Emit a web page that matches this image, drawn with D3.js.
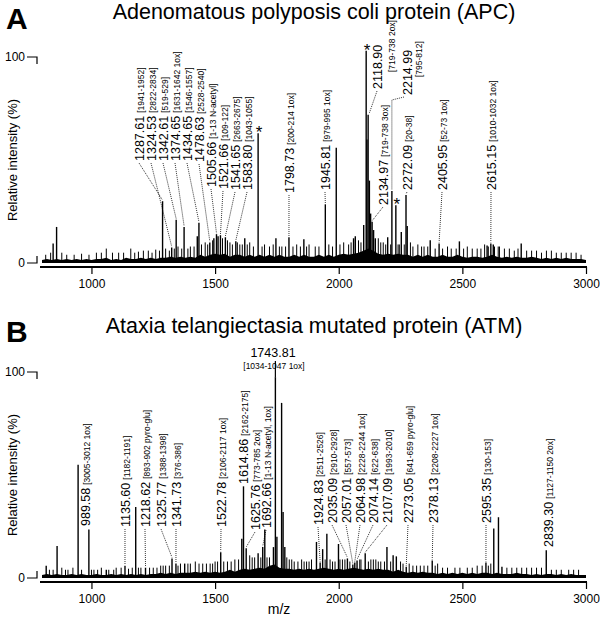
<!DOCTYPE html>
<html>
<head>
<meta charset="utf-8">
<script src="https://cdn.jsdelivr.net/npm/d3@7"></script>
<style>
  body { margin: 0; background: #fff; }
  svg { display: block; font-family: "Liberation Sans", Arial, sans-serif; }
</style>
</head>
<body>
<div id="chart"></div>
<script>
const width = 600;
const height = 618;

// x axis ticks (m/z)
const mzTicks = [1000, 1500, 2000, 2500, 3000];

// ---- Panel A: APC ----
// main peaks [m/z, relative intensity %]
const peaksA = [
  [845, 9.5], [859, 17.5], [1287.61, 30], [1324.53, 7.5], [1342.61, 21], [1374.65, 17.5],
  [1428, 13], [1434.65, 19.5], [1478.63, 10], [1495, 12], [1505.66, 14], [1512, 13],
  [1521.66, 13.5], [1541.65, 12.5], [1583.80, 10.5], [1620, 12], [1674, 63], [1746, 12],
  [1798.73, 12.5], [1859, 11.5], [1945.81, 28.5], [1990, 56], [2060, 12], [2067, 13],
  [2101, 18.5], [2111, 103], [2114, 60], [2118.90, 72], [2124, 40], [2129, 24],
  [2134.97, 20], [2141, 16], [2148, 12], [2198, 12.5], [2214.99, 35], [2231, 28],
  [2253, 15], [2272.09, 33], [2277, 18], [2370, 11], [2405.95, 9.5], [2488, 10.5],
  [2600, 8.5], [2615.15, 9.5], [2625, 9], [2738, 9.5]
];
// small spikes in the noise
const minorA = [
  [815, 4], [835, 5], [880, 5], [900, 4], [930, 4], [960, 4.5], [990, 4], [1020, 5],
  [1040, 5], [1060, 7], [1085, 5], [1110, 5], [1130, 5], [1159, 7], [1175, 5], [1190, 5.5],
  [1210, 6], [1230, 6], [1245, 5], [1260, 6.5], [1275, 6], [1300, 7], [1315, 6], [1335, 7],
  [1350, 8], [1365, 7], [1390, 7], [1400, 8], [1415, 8], [1445, 9], [1460, 10], [1470, 9],
  [1490, 11], [1530, 12], [1550, 11], [1560, 10], [1570, 9], [1590, 10], [1600, 9],
  [1610, 9], [1630, 9], [1640, 10], [1655, 8], [1690, 8], [1700, 9], [1720, 8], [1735, 9],
  [1760, 8], [1770, 8], [1785, 8], [1815, 8], [1830, 9], [1845, 8], [1870, 8], [1880, 9],
  [1905, 8], [1920, 8], [1960, 9], [1975, 8], [2005, 9], [2020, 10], [2040, 9], [2050, 10],
  [2080, 11], [2090, 10], [2160, 12], [2170, 10], [2180, 10], [2190, 9], [2210, 9],
  [2240, 9], [2245, 9], [2265, 9], [2290, 10], [2300, 8], [2320, 9], [2335, 8], [2345, 8],
  [2360, 8], [2390, 7], [2420, 7], [2440, 8], [2455, 7], [2475, 7], [2505, 7], [2520, 8],
  [2540, 7], [2560, 7], [2575, 7], [2590, 9], [2605, 8], [2630, 8], [2645, 8], [2650, 8],
  [2670, 7], [2690, 7], [2710, 6], [2725, 7], [2760, 6], [2780, 6], [2800, 6], [2820, 5],
  [2840, 6], [2860, 6], [2880, 5], [2900, 5], [2920, 5], [2940, 5], [2960, 5], [2980, 4]
];
// dense noise band top, every 20 m/z from 800 to 3000
const noiseA = [
  1.5, 2, 1.5, 2, 1.5,  2, 1.5, 2, 1.5, 2,  1.5, 2, 2, 2.5, 1.5,  2, 1.5, 2.5, 2, 2,
  2.5, 2, 2.5, 2, 2.5,  2.5, 3, 2.5, 3, 2.5,  3, 2.5, 4, 3, 4,  4.5, 4, 4.5, 3, 4,
  4, 3, 4, 3, 4,  3, 4, 3, 4, 3,  3, 4, 3, 4, 3,  3, 4, 3, 4, 3,
  4, 4.5, 4, 4.5, 5,  6, 7, 6, 4.5, 4,  4.5, 4, 4.5, 4, 4,  3, 4, 3, 4, 3,
  3, 4, 3, 3, 4,  3, 2.5, 3, 3, 2.5,  3, 4, 3, 2.5, 3,  2.5, 3, 2.5, 2.5, 3,
  2.5, 2, 2.5, 2, 2.5,  2, 2.5, 2, 2, 2,  1.5
];
const labelsA = [
  [1287.61, "1287.61", "[1941-1952]"],
  [1324.53, "1324.53", "[2822-2834]"],
  [1342.61, "1342.61", "[519-529]"],
  [1374.65, "1374.65", "[1631-1642 1ox]"],
  [1434.65, "1434.65", "[1546-1557]"],
  [1478.63, "1478.63", "[2528-2540]"],
  [1505.66, "1505.66", "[1-13 N-acetyl]"],
  [1521.66, "1521.66", "[109-122]"],
  [1541.65, "1541.65", "[2663-2675]"],
  [1583.80, "1583.80", "[1043-1055]"],
  [1798.73, "1798.73", "[200-214 1ox]"],
  [1945.81, "1945.81", "[979-995 1ox]"],
  [2118.90, "2118.90", ""],
  [2134.97, "2134.97", "[719-738 3ox]"],
  [2214.99, "2214.99", ""],
  [2272.09, "2272.09", "[20-38]"],
  [2405.95, "2405.95", "[52-73 1ox]"],
  [2615.15, "2615.15", "[1010-1032 1ox]"]
];
const asterisksA = [1674, 2111, 2231];

// ---- Panel B: ATM ----
const peaksB = [
  [817, 6], [861, 15.5], [946, 55], [989.58, 23.5], [1060, 4], [1135.60, 6], [1179, 34.5],
  [1218.62, 5], [1325.77, 9.5], [1341.73, 7], [1377, 7], [1522.78, 12.5], [1608, 19],
  [1614.86, 44.5], [1625.76, 14.5], [1674, 12], [1692.66, 15], [1701, 23.5], [1736, 15],
  [1743.81, 97.5], [1750, 20], [1769, 85], [1775, 32], [1782, 15], [1910, 17.5],
  [1924.83, 7.5], [1935, 14], [1952, 21.5], [1999, 16.5], [2035.09, 9.5], [2057.01, 6.5],
  [2064.98, 7.5], [2074.14, 8.5], [2107.09, 12], [2195, 15], [2220, 11], [2233, 10.5],
  [2273.05, 5.5], [2378.13, 8.5], [2595.35, 7.5], [2627, 24], [2646, 29.5], [2660, 5.5],
  [2839.30, 13.5]
];
const minorB = [
  [830, 4], [845, 4], [880, 5], [895, 4], [905, 4], [925, 5], [960, 4], [1000, 4],
  [1010, 4], [1025, 4], [1040, 5], [1070, 4], [1090, 4], [1100, 5], [1120, 5], [1150, 4.5],
  [1165, 5], [1190, 5], [1200, 5], [1235, 5], [1250, 5], [1265, 5], [1280, 6], [1290, 6],
  [1300, 6], [1315, 6], [1350, 6], [1360, 7], [1390, 7], [1400, 7], [1420, 8], [1435, 7],
  [1450, 7], [1465, 7], [1480, 7], [1490, 7], [1500, 8], [1510, 8], [1535, 8], [1550, 8],
  [1565, 8], [1580, 9], [1595, 9], [1640, 11], [1650, 10], [1660, 10], [1685, 10],
  [1710, 10], [1720, 10], [1790, 10], [1800, 9], [1810, 9], [1820, 8], [1835, 8], [1850, 9],
  [1860, 8], [1870, 8], [1880, 8], [1890, 9], [1945, 9], [1965, 9], [1975, 8], [1985, 8],
  [2005, 9], [2015, 9], [2025, 9], [2045, 8], [2085, 9], [2090, 9], [2120, 8], [2130, 9],
  [2140, 9], [2150, 9], [2160, 8], [2170, 8], [2185, 8], [2210, 8], [2250, 8], [2260, 7],
  [2285, 7], [2300, 6], [2315, 6], [2330, 6], [2345, 6], [2360, 6], [2390, 6], [2400, 7],
  [2420, 5], [2440, 5], [2470, 5], [2490, 5], [2520, 5], [2540, 5], [2560, 6], [2580, 6],
  [2605, 6], [2615, 7], [2680, 5], [2700, 5], [2720, 5], [2740, 5], [2760, 5], [2780, 5],
  [2800, 5], [2820, 5], [2860, 4], [2880, 4], [2900, 4], [2930, 4], [2950, 4], [2970, 4]
];
const noiseB = [
  1.5, 2, 1.5, 2, 1.5, 1.5, 2, 1.5, 2, 1.5,
  1.5, 2, 1.5, 1.5, 2, 1.5, 2, 1.5, 2, 1.5,
  2, 1.5, 2, 2, 2.5, 2, 2.5, 2, 2.5, 2.5,
  2.5, 3, 2.5, 3, 2.5, 3, 2.5, 3, 4, 3,
  4, 4.5, 4, 4.5, 5, 4.5, 6, 6.5, 5, 4.5,
  4.5, 4, 4.5, 4, 4.5, 4, 4.5, 5, 4.5, 4,
  4.5, 4, 4.5, 5, 4.5, 4, 4.5, 4, 4.5, 4,
  4, 3, 4, 3, 2.5, 3, 2.5, 3, 2.5, 2.5,
  2, 2.5, 2, 2.5, 2, 2.5, 2, 2.5, 2, 2.5,
  2.5, 2, 2.5, 2, 2, 2, 2.5, 2, 2, 1.5,
  2, 1.5, 2, 2, 1.5, 2, 1.5, 2, 1.5, 1.5, 1.5
];
const labelsB = [
  [989.58, "989.58", "[3005-3012 1ox]"],
  [1135.60, "1135.60", "[1182-1191]"],
  [1218.62, "1218.62", "[893-902 pyro-glu]"],
  [1325.77, "1325.77", "[1388-1398]"],
  [1341.73, "1341.73", "[376-386]"],
  [1522.78, "1522.78", "[2106-2117 1ox]"],
  [1614.86, "1614.86", "[2162-2175]"],
  [1625.76, "1625.76", "[773-785 2ox]"],
  [1692.66, "1692.66", "[1-13 N-acetyl, 1ox]"],
  [1924.83, "1924.83", "[2511-2526]"],
  [2035.09, "2035.09", "[2910-2928]"],
  [2057.01, "2057.01", "[557-573]"],
  [2064.98, "2064.98", "[2228-2244 1ox]"],
  [2074.14, "2074.14", "[622-638]"],
  [2107.09, "2107.09", "[1993-2010]"],
  [2273.05, "2273.05", "[641-659 pyro-glu]"],
  [2378.13, "2378.13", "[2208-2227 1ox]"],
  [2595.35, "2595.35", "[130-153]"],
  [2839.30, "2839.30", "[1127-1150 2ox]"]
];

// label placement (pixel column centre, bottom of rotated text), same order as labels
const layoutA = [
  [139, 161], [151, 161], [163, 161], [175, 161], [187, 161], [199, 162],
  [211, 187], [223, 189], [235, 190], [247, 190],
  [289, 193], [325, 190], [377, 89], [383, 205], [407, 95], [407, 190], [442, 190], [491, 190]
];
const layoutB = [
  [85, 526], [125, 527], [145, 527], [161, 527], [176, 527], [221, 527],
  [243, 484], [255, 530], [266, 528],
  [318, 525], [332, 523], [346, 523], [360, 523], [373, 523], [387, 523],
  [408, 523], [433, 523], [486, 523], [548, 547]
];

const svg = d3.select("#chart")
  .append("svg")
  .attr("width", width)
  .attr("height", height);

const x = d3.scaleLinear().domain([800, 3000]).range([42, 586]);

function lookup(peaks, mz) {
  const p = peaks.find(d => Math.abs(d[0] - mz) < 0.01);
  return p ? p[1] : 5;
}

function rotLabel(g, cx, bottom, num, ref) {
  const t = g.append("text")
    .attr("transform", `translate(${cx + 4.5},${bottom}) rotate(-90)`)
    .attr("font-size", 12.5)
    .attr("fill", "#000");
  t.append("tspan").text(num);
  if (ref) t.append("tspan").attr("font-size", 8.5).attr("dx", 3).text(ref);
}

function leader(g, pts) {
  g.append("path")
    .attr("d", d3.line()(pts))
    .attr("fill", "none")
    .attr("stroke", "#000")
    .attr("stroke-width", 0.8)
    .attr("stroke-dasharray", "1,1");
}

function drawPanel(p) {
  const y = d3.scaleLinear().domain([0, 100]).range([p.base, p.top]);
  const g = svg.append("g");

  // dense noise band
  g.append("path")
    .datum(p.noise.map((v, i) => [800 + 20 * i, v]))
    .attr("d", d3.area().x(d => x(d[0])).y0(y(0)).y1(d => y(d[1])))
    .attr("fill", "#000");

  g.selectAll("line.minor")
    .data(p.minor)
    .join("line")
    .attr("class", "minor")
    .attr("x1", d => x(d[0])).attr("x2", d => x(d[0]))
    .attr("y1", y(0)).attr("y2", d => y(d[1]))
    .attr("stroke", "#000")
    .attr("stroke-width", 1);

  g.selectAll("line.peak")
    .data(p.peaks)
    .join("line")
    .attr("class", "peak")
    .attr("x1", d => x(d[0])).attr("x2", d => x(d[0]))
    .attr("y1", y(0)).attr("y2", d => y(d[1]))
    .attr("stroke", "#000")
    .attr("stroke-width", 1.4);

  // x axis
  const axis = d3.axisBottom(x).tickValues(mzTicks).tickSize(7).tickPadding(5).tickSizeOuter(0)
    .tickFormat(d3.format("d"));
  const ax = g.append("g")
    .attr("transform", `translate(0,${p.axisY})`)
    .call(axis);
  ax.attr("font-family", null).attr("font-size", null);
  ax.select(".domain").attr("d", "M40,0H587").attr("stroke-width", 2);
  ax.selectAll(".tick line").attr("stroke-width", 1.2);
  ax.selectAll(".tick text").attr("font-size", 12).attr("fill", "#000");

  // y axis brackets
  g.append("path").attr("d", `M27,${y(100)}H37V${y(100) + 7}`)
    .attr("fill", "none").attr("stroke", "#000").attr("stroke-width", 1.2);
  g.append("path").attr("d", `M27,${y(0)}H37V${y(0) - 7}`)
    .attr("fill", "none").attr("stroke", "#000").attr("stroke-width", 1.2);
  g.append("text").attr("x", 25).attr("y", y(100)).attr("dy", "0.35em")
    .attr("text-anchor", "end").attr("font-size", 12).text("100");
  g.append("text").attr("x", 25).attr("y", y(0)).attr("dy", "0.35em")
    .attr("text-anchor", "end").attr("font-size", 12).text("0");

  g.append("text")
    .attr("transform", `translate(17,${(y(0) + y(100)) / 2}) rotate(-90)`)
    .attr("text-anchor", "middle")
    .attr("font-size", 13)
    .text("Relative intensity (%)");

  // titles
  g.append("text").attr("x", 314).attr("y", p.titleY).attr("text-anchor", "middle")
    .attr("font-size", 21.5).text(p.title);
  g.append("text").attr("x", 6).attr("y", p.letterY).attr("font-size", 30)
    .attr("font-weight", "bold").text(p.letter);

  // peak labels
  p.labels.forEach((l, i) => {
    const [cx, bottom] = p.layout[i];
    const px = x(l[0]);
    const py = y(lookup(p.peaks, l[0]));
    rotLabel(g, cx, bottom, l[1], l[2]);
    if (p.special && p.special[l[1]]) {
      p.special[l[1]](g, cx, bottom, px, py);
    } else if (py - bottom > 4) {
      leader(g, [[cx, bottom + 2], [px, py - 1]]);
    }
  });

  (p.asterisks || []).forEach(mz => {
    g.append("text")
      .attr("x", x(mz) + 1)
      .attr("y", y(lookup(p.peaks, mz)) + 5)
      .attr("text-anchor", "middle")
      .attr("font-size", 17)
      .text("*");
  });

  return y;
}

drawPanel({
  base: 263, top: 57, axisY: 267,
  titleY: 19, letterY: 29,
  title: "Adenomatous polyposis coli protein (APC)", letter: "A",
  peaks: peaksA, minor: minorA, noise: noiseA,
  labels: labelsA, layout: layoutA, asterisks: asterisksA,
  special: {
    "2118.90": (g, cx, bottom, px, py) => {
      g.append("text")
        .attr("transform", `translate(${cx + 17.5},${bottom - 17}) rotate(-90)`)
        .attr("font-size", 8.5).text("[719-738 2ox]");
      leader(g, [[cx, bottom + 2], [px + 1, py - 1]]);
    },
    "2214.99": (g, cx, bottom, px, py) => {
      g.append("text")
        .attr("transform", `translate(${cx + 15},${bottom - 18}) rotate(-90)`)
        .attr("font-size", 8.5).text("[795-812]");
      leader(g, [[cx - 3, bottom + 2], [px, bottom + 5], [px, py - 1]]);
    }
  }
});

const yB = drawPanel({
  base: 578, top: 372, axisY: 582,
  titleY: 333, letterY: 342,
  title: "Ataxia telangiectasia mutated protein (ATM)", letter: "B",
  peaks: peaksB, minor: minorB, noise: noiseB,
  labels: labelsB, layout: layoutB
});

// horizontal label for the base peak in B
svg.append("text").attr("x", 273).attr("y", 357).attr("text-anchor", "middle")
  .attr("font-size", 12.5).text("1743.81");
svg.append("text").attr("x", 274).attr("y", 369).attr("text-anchor", "middle")
  .attr("font-size", 8.5).text("[1034-1047 1ox]");
svg.append("line")
  .attr("x1", x(1743.81)).attr("x2", x(1743.81))
  .attr("y1", 361).attr("y2", yB(lookup(peaksB, 1743.81)))
  .attr("stroke", "#000").attr("stroke-width", 1.2);

svg.append("text").attr("x", 279).attr("y", 614).attr("text-anchor", "middle")
  .attr("font-size", 14).text("m/z");
</script>
</body>
</html>
